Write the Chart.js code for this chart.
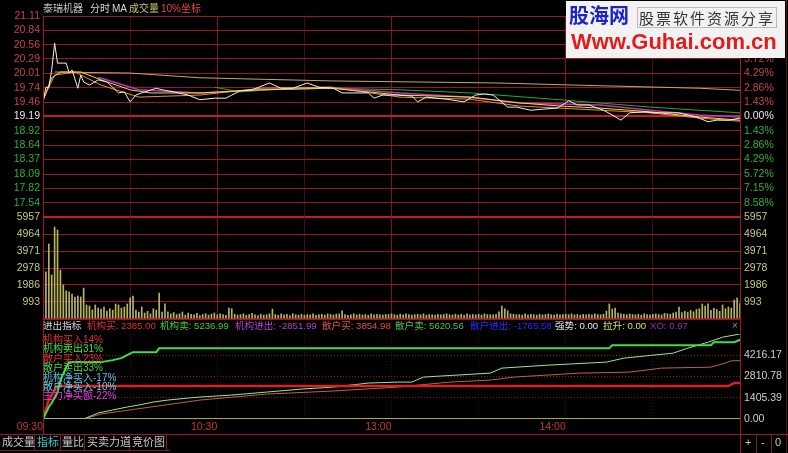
<!DOCTYPE html>
<html lang="zh-CN">
<head>
<meta charset="UTF-8" />
<title>泰瑞机器 分时</title>
<script src="https://cdn.jsdelivr.net/npm/chart.js"></script>
<style>
  html, body { margin: 0; padding: 0; background: #000; }
  body { position: relative; width: 788px; height: 453px; overflow: hidden;
         font-family: "Liberation Sans", "Noto Sans CJK SC", sans-serif; }
  canvas { position: absolute; left: 0; }
  .t { position: absolute; font-size: 10px; line-height: 12px; white-space: nowrap; }
  .ln { position: absolute; background: #a01828; }
  .leg { position: absolute; left: 43px; font-size: 10px; line-height: 9.4px; white-space: nowrap; }
  .tab { position: absolute; top: 436px; font-size: 11px; line-height: 13px; color: #c8c8c8; white-space: nowrap; }
</style>
</head>
<body>
<canvas id="priceChart" width="788" height="230" style="top:0"></canvas>
<canvas id="volChart" width="788" height="125" style="top:205px"></canvas>
<canvas id="ioChart" width="788" height="112" style="top:322px"></canvas>

<!-- frame lines -->
<div class="ln" style="left:43px;top:16px;width:1px;height:418px"></div>
<div class="ln" style="left:740px;top:16px;width:1px;height:437px"></div>
<div class="ln" style="left:786px;top:0;width:1px;height:453px;background:#501018"></div>
<div class="ln" style="left:0;top:434px;width:788px;height:1px"></div>
<div class="ln" style="left:0;top:450px;width:170px;height:1px;background:#702030"></div>
<div class="ln" style="left:34px;top:434px;width:1px;height:16px;background:#702030"></div>
<div class="ln" style="left:60px;top:434px;width:1px;height:16px;background:#702030"></div>
<div class="ln" style="left:84px;top:434px;width:1px;height:16px;background:#702030"></div>
<div class="ln" style="left:129px;top:434px;width:1px;height:16px;background:#702030"></div>
<div class="ln" style="left:166px;top:434px;width:1px;height:16px;background:#702030"></div>
<div class="ln" style="left:756px;top:434px;width:1px;height:19px;background:#702030"></div>
<div class="ln" style="left:771px;top:434px;width:1px;height:19px;background:#702030"></div>

<!-- header of price panel -->
<div class="t" style="left:43px;top:3px;color:#c0c0c0">泰瑞机器</div>
<div class="t" style="left:90px;top:3px;color:#d8d8d8">分时</div>
<div class="t" style="left:112px;top:3px;color:#d8d8d8">MA</div>
<div class="t" style="left:129px;top:3px;color:#c8c86c">成交量</div>
<div class="t" style="left:161px;top:3px;color:#e04848">10%坐标</div>

<!-- header of indicator panel -->
<div id="ioHeader"></div>
<div class="t" style="left:732px;top:320px;color:#909090">×</div>

<!-- indicator legend -->
<div class="leg" style="top:335px;color:#e83030">机构买入14%</div>
<div class="leg" style="top:344.4px;color:#40e040">机构卖出31%</div>
<div class="leg" style="top:353.8px;color:#e83030">散户买入23%</div>
<div class="leg" style="top:363.2px;color:#50d050">散户卖出33%</div>
<div class="leg" style="top:372.6px;color:#50c8e8">机构净买入-17%</div>
<div class="leg" style="top:382px;color:#60d0f0">散户净买入-10%</div>
<div class="leg" style="top:391.4px;color:#e040e0">主力净买额-22%</div>

<!-- tabs -->
<div class="tab" style="left:2px">成交量</div>
<div class="tab" style="left:37px;color:#30c8d0">指标</div>
<div class="tab" style="left:62px">量比</div>
<div class="tab" style="left:87px">买卖力道</div>
<div class="tab" style="left:132px">竞价图</div>
<div class="tab" style="left:745px">+</div>
<div class="tab" style="left:761px">-</div>
<div class="tab" style="left:775px">0</div>

<!-- watermark -->
<div style="position:absolute;left:566px;top:1px;width:219px;height:57px;background:#f2f2f2">
  <div style="position:absolute;left:3px;top:2px;font:bold 20px/24px 'Noto Sans CJK SC';color:#1a22c8">股海网</div>
  <div style="position:absolute;left:71px;top:6px;font:15px/19px 'Noto Sans CJK SC';color:#333;letter-spacing:2px;border:1px solid #bbb;padding:0 1px">股票软件资源分享</div>
  <div style="position:absolute;left:5px;top:28px;font:bold 22px/26px 'Liberation Sans';color:#e21b1b">Www.Guhai.com.cn</div>
</div>

<script>
  // ---- data (minute index counted from 09:30, 11:30 and 13:00 share minute 120) ----
  const prevClose = 19.19;
  const priceTicks = [21.11, 20.84, 20.56, 20.29, 20.01, 19.74, 19.46, 19.19, 18.92, 18.64, 18.37, 18.09, 17.82, 17.54, 17.27];
  const pctTicks = ["10.00%", "8.58%", "7.15%", "5.72%", "4.29%", "2.86%", "1.43%", "0.00%", "1.43%", "2.86%", "4.29%", "5.72%", "7.15%", "8.58%", ""];
  const volTicks = [5957, 4964, 3971, 2978, 1986, 993, 0];
  const ioTicks = [5620.56, 4216.17, 2810.78, 1405.39, 0];
  const timeTicks = [0, 60, 120, 180];
  const timeLabels = ["09:30", "10:30", "13:00", "14:00"];

  const priceMin = [0, 1, 2, 3, 4, 5, 7, 8, 9, 10, 12, 13, 14, 16, 19, 22, 24, 26, 28, 30, 32, 34, 39, 41, 45, 50, 54, 59, 63, 65, 68, 72, 78, 82, 86, 91, 95, 100, 103, 112, 114, 117, 122, 127, 129, 132, 139, 145, 149, 152, 155, 157, 160, 163, 168, 172, 177, 180, 181, 184, 188, 193, 196, 199, 202, 207, 210, 213, 219, 225, 229, 232, 236, 240];
  const price = [19.45, 19.75, 19.75, 20.08, 20.59, 20.21, 20.21, 20.21, 20.02, 20.08, 19.73, 19.98, 19.85, 19.79, 19.89, 19.85, 19.75, 19.64, 19.66, 19.47, 19.60, 19.64, 19.73, 19.70, 19.66, 19.60, 19.51, 19.54, 19.54, 19.60, 19.68, 19.70, 19.83, 19.73, 19.73, 19.83, 19.75, 19.73, 19.64, 19.64, 19.54, 19.60, 19.60, 19.58, 19.47, 19.56, 19.52, 19.47, 19.60, 19.62, 19.60, 19.51, 19.37, 19.37, 19.31, 19.33, 19.35, 19.45, 19.49, 19.41, 19.41, 19.31, 19.22, 19.12, 19.26, 19.28, 19.26, 19.26, 19.26, 19.18, 19.09, 19.12, 19.12, 19.16];

  const avgMin = [0, 3, 6, 13, 20, 30, 37, 54, 75, 99, 123, 147, 164, 178, 192, 209, 226, 240];
  const avg = [19.50, 19.93, 20.04, 20.04, 19.89, 19.70, 19.64, 19.64, 19.70, 19.73, 19.60, 19.56, 19.45, 19.39, 19.35, 19.28, 19.18, 19.12];
  const ma10Min = [0, 4, 11, 20, 33, 54, 75, 99, 123, 147, 164, 192, 209, 226, 240];
  const ma10 = [19.51, 19.98, 20.04, 19.79, 19.56, 19.60, 19.73, 19.75, 19.56, 19.52, 19.39, 19.31, 19.26, 19.16, 19.10];
  const ma20Min = [19, 33, 54, 75, 99, 123, 147, 164, 192, 209, 226, 240];
  const ma20 = [19.94, 19.70, 19.64, 19.70, 19.75, 19.64, 19.56, 19.45, 19.41, 19.31, 19.22, 19.18];
  const ma60Min = [59, 68, 78, 99, 123, 147, 178, 209, 240];
  const ma60 = [19.75, 19.66, 19.70, 19.73, 19.70, 19.64, 19.51, 19.37, 19.26];
  const maDayMin = [4, 30, 54, 99, 157, 183, 226, 240];
  const maDay = [20.04, 20.02, 19.93, 19.87, 19.83, 19.79, 19.73, 19.69];

  // volume, minutes 1..240
  const volume = [
    2750, 4380, 2570, 5370, 5200, 2860, 1990, 1640, 1580, 1460, 1280, 1340, 1290, 1810, 820, 760, 530, 820, 640, 580,
    700, 460, 600, 520, 880, 820, 640, 700, 880, 1230, 1340, 520, 400, 700, 350, 450, 300, 600, 520, 1520,
    400, 880, 420, 300, 380, 260, 300, 410, 220, 350, 280, 240, 330, 200, 260, 310, 230, 280, 350, 240,
    300, 260, 220, 640, 600, 280, 230, 250, 300, 210, 260, 330, 240, 200, 280, 230, 250, 300, 580, 260,
    220, 300, 240, 270, 200, 310, 250, 230, 280, 220, 260, 240, 300, 210, 250, 270, 230, 300, 260, 240,
    280, 300, 470, 260, 220, 250, 300, 240, 280, 230, 260, 220, 300, 250, 280, 240, 230, 270, 260, 300,
    250, 220, 280, 240, 300, 260, 230, 250, 280, 240, 300, 220, 260, 250, 230, 280, 240, 260, 300, 250,
    230, 280, 240, 270, 220, 300, 250, 260, 240, 280, 230, 300, 260, 250, 240, 280, 420, 760, 600, 480,
    300, 280, 250, 260, 230, 300, 240, 270, 250, 230, 280, 240, 260, 300, 250, 230, 270, 240, 260, 280,
    250, 300, 240, 260, 230, 270, 250, 280, 240, 300, 260, 250, 280, 460, 880, 580, 640, 350, 300, 280,
    250, 300, 260, 240, 280, 230, 300, 260, 250, 280, 300, 260, 240, 330, 300, 280, 350, 400, 700, 380,
    450, 400, 500, 420, 560, 600, 880, 760, 880, 500, 620, 560, 450, 820, 600, 700, 640, 1110, 1230, 900
  ];

  const instBuyMin = [0, 2, 4, 5, 236, 238, 240];
  const instBuy = [0, 1250, 1910, 2177, 2177, 2385, 2385.00];
  const instSellMin = [0, 2, 3, 5, 6, 8, 9, 20, 24, 27, 29, 31, 39, 40, 195, 196, 230, 231, 238, 240];
  const instSell = [0, 792, 1055, 1781, 2573, 3431, 3761, 3761, 3893, 4025, 4223, 4421, 4421, 4685, 4685, 4883, 4883, 5081, 5081, 5236.99];
  const retailBuyMin = [0, 14, 20, 37, 54, 77, 100, 122, 140, 154, 162, 185, 202, 213, 230, 235, 237, 240];
  const retailBuy = [0, 0, 330, 790, 1250, 1650, 1850, 2110, 2440, 2570, 2770, 3035, 3100, 3365, 3430, 3700, 3850, 3854.98];
  const retailSellMin = [0, 14, 19, 24, 29, 33, 38, 43, 50, 54, 65, 77, 89, 100, 112, 122, 127, 131, 154, 158, 174, 194, 200, 217, 222, 229, 234, 240];
  const retailSell = [0, 0, 396, 594, 792, 924, 1122, 1253, 1385, 1451, 1583, 1781, 1979, 2111, 2375, 2441, 2441, 2771, 3035, 3365, 3563, 3761, 4025, 4355, 4685, 5081, 5411, 5620.56];
  const strongMin = [0, 240];
  const strong = [0, 0];
  const xo = 0.97;

  // ---- header texts from the series ----
  const last = a => a[a.length - 1];
  const f2 = v => v.toFixed(2);
  const headerItems = [
    [43, "#d8d8d8", "进出指标"],
    [87, "#e03030", "机构买: " + f2(last(instBuy))],
    [160, "#40d040", "机构卖: " + f2(last(instSell))],
    [235, "#b040d0", "机构进出: " + f2(last(instBuy) - last(instSell))],
    [322, "#e05050", "散户买: " + f2(last(retailBuy))],
    [395, "#50c050", "散户卖: " + f2(last(retailSell))],
    [470, "#2030ff", "散户进出: " + f2(last(retailBuy) - last(retailSell))],
    [555, "#e8e8e8", "强势: " + f2(last(strong))],
    [603, "#e0e050", "拉升: " + f2(last(strong))],
    [650, "#9030c0", "XO: " + f2(xo)]
  ];
  const hdr = document.getElementById("ioHeader");
  headerItems.forEach(([x, c, s]) => {
    const d = document.createElement("div");
    d.className = "t";
    d.style.left = x + "px";
    d.style.top = "320px";
    d.style.fontSize = "9.6px";
    d.style.color = c;
    d.textContent = s;
    hdr.appendChild(d);
  });

  // ---- charts ----
  const RED = "#9c1428", RED_HI = "#c81830", CLEAR = "rgba(0,0,0,0)";
  const FONT = { family: "'Liberation Sans', sans-serif", size: 10.5 };
  const pts = (xs, ys) => xs.map((x, i) => ({ x: x, y: ys[i] }));
  const line = (data, color, width) => ({ data: data, borderColor: color, borderWidth: width, pointRadius: 0, tension: 0, fill: false });
  const yWidth = w => s => { s.width = w; s.paddingTop = 0; s.paddingBottom = 0; };
  const setTicks = list => s => { s.ticks = list.map(v => ({ value: v })); };
  const noGrid = { display: false, drawTicks: false, tickLength: 0 };

  const xGrid = {
    drawTicks: false,
    color: c => (c.tick.value === 0 || c.tick.value === 240) ? CLEAR : (c.tick.value % 60 === 0 ? "#7c1222" : "#4a0a14")
  };
  const hiddenX = {
    type: "linear", min: 0, max: 240, offset: false,
    afterFit: s => { s.height = 0; s.paddingLeft = 0; s.paddingRight = 0; },
    ticks: { display: false, stepSize: 30 },
    grid: xGrid, border: { display: false }
  };
  const base = {
    responsive: false, animation: false,
    plugins: { legend: { display: false }, tooltip: { enabled: false } }
  };

  new Chart(document.getElementById("priceChart"), {
    type: "line",
    data: {
      datasets: [
        line(pts(priceMin, price), "#f0f0f0", 1),
        line(pts(avgMin, avg), "#e8e040", 1),
        line(pts(ma10Min, ma10), "#e89030", 1),
        line(pts(ma20Min, ma20), "#c030c0", 1.5),
        line(pts(ma60Min, ma60), "#20b020", 1),
        line(pts(maDayMin, maDay), "#c8a860", 1)
      ]
    },
    options: Object.assign({}, base, {
      layout: { padding: { top: 16, bottom: 13, left: 0, right: 0 } },
      scales: {
        x: hiddenX,
        y: {
          type: "linear", position: "left", min: 17.27, max: 21.11,
          afterBuildTicks: setTicks(priceTicks), afterFit: yWidth(43),
          ticks: {
            font: FONT, padding: 3, autoSkip: false,
            callback: (v, i) => i === priceTicks.length - 1 ? "" : priceTicks[i].toFixed(2),
            color: c => c.tick.value > prevClose + 0.001 ? "#c84444" : (c.tick.value < prevClose - 0.001 ? "#30b030" : "#e8e8e8")
          },
          grid: {
            drawTicks: false,
            color: c => (c.tick.value === prevClose || c.tick.value === 17.27) ? RED_HI : RED,
            lineWidth: c => (c.tick.value === prevClose || c.tick.value === 17.27) ? 2 : 1
          },
          border: { display: false }
        },
        y2: {
          type: "linear", position: "right", min: 17.27, max: 21.11,
          afterBuildTicks: setTicks(priceTicks), afterFit: yWidth(48),
          ticks: {
            font: FONT, padding: 4, autoSkip: false,
            callback: (v, i) => pctTicks[i],
            color: c => c.tick.value > prevClose + 0.001 ? "#c84444" : (c.tick.value < prevClose - 0.001 ? "#30b030" : "#e8e8e8")
          },
          grid: noGrid,
          border: { display: false }
        }
      }
    })
  });

  new Chart(document.getElementById("volChart"), {
    type: "bar",
    data: {
      datasets: [{
        data: volume.map((v, i) => ({ x: i + 1, y: v })),
        backgroundColor: "#b8b45c", borderWidth: 0, barThickness: 1
      }]
    },
    options: Object.assign({}, base, {
      layout: { padding: { top: 12, bottom: 11, left: 0, right: 0 } },
      scales: {
        x: Object.assign({}, hiddenX, { grid: Object.assign({ offset: false }, xGrid) }),
        y: {
          type: "linear", position: "left", min: 0, max: 5957,
          afterBuildTicks: setTicks(volTicks), afterFit: yWidth(43),
          ticks: { font: FONT, padding: 3, autoSkip: false, color: "#c8c878",
                   callback: (v, i) => volTicks[i] === 0 ? "" : String(volTicks[i]) },
          grid: { drawTicks: false, color: c => c.tick.value === 5957 ? CLEAR : RED,
                  lineWidth: c => c.tick.value === 0 ? 2 : 1 },
          border: { display: false }
        },
        y2: {
          type: "linear", position: "right", min: 0, max: 5957,
          afterBuildTicks: setTicks(volTicks), afterFit: yWidth(48),
          ticks: { font: FONT, padding: 4, autoSkip: false, color: "#c8c878",
                   callback: (v, i) => volTicks[i] === 0 ? "" : String(volTicks[i]) },
          grid: noGrid,
          border: { display: false }
        }
      }
    })
  });

  new Chart(document.getElementById("ioChart"), {
    type: "line",
    data: {
      datasets: [
        line(pts(instSellMin, instSell), "#40e040", 2),
        line(pts(instBuyMin, instBuy), "#e02020", 2.5),
        line(pts(retailSellMin, retailSell), "#98e890", 1),
        line(pts(retailBuyMin, retailBuy), "#c06048", 1),
        line(pts(strongMin, strong), "#e8e040", 1.5)
      ]
    },
    options: Object.assign({}, base, {
      layout: { padding: { top: 12, bottom: 0, left: 0, right: 0 } },
      scales: {
        x: {
          type: "linear", min: 0, max: 240,
          afterFit: s => { s.height = 15; s.paddingLeft = 0; s.paddingRight = 0; },
          ticks: {
            stepSize: 30, autoSkip: false, maxRotation: 0, minRotation: 0,
            align: "end", padding: 2, font: FONT, color: "#c83838",
            callback: v => { const k = timeTicks.indexOf(v); return k >= 0 ? timeLabels[k] : ""; }
          },
          grid: { drawTicks: false,
                  color: c => (c.tick.value === 0 || c.tick.value === 240) ? CLEAR : "#4a0a14" },
          border: { display: false, dash: [1, 2] }
        },
        y: {
          type: "linear", position: "left", min: 0, max: 5620.56,
          afterBuildTicks: setTicks(ioTicks), afterFit: yWidth(43),
          ticks: { display: false },
          grid: { drawTicks: false,
                  color: c => (c.tick.value === 0 || c.tick.value === 5620.56) ? CLEAR : "#8c1424" },
          border: { display: false, dash: [1, 2] }
        },
        y2: {
          type: "linear", position: "right", min: 0, max: 5620.56,
          afterBuildTicks: setTicks(ioTicks), afterFit: yWidth(48),
          ticks: { font: FONT, padding: 4, autoSkip: false, color: "#d0d0d0",
                   callback: (v, i) => i === 0 ? "" : ioTicks[i].toFixed(2) },
          grid: noGrid,
          border: { display: false }
        }
      }
    })
  });
</script>
</body>
</html>
